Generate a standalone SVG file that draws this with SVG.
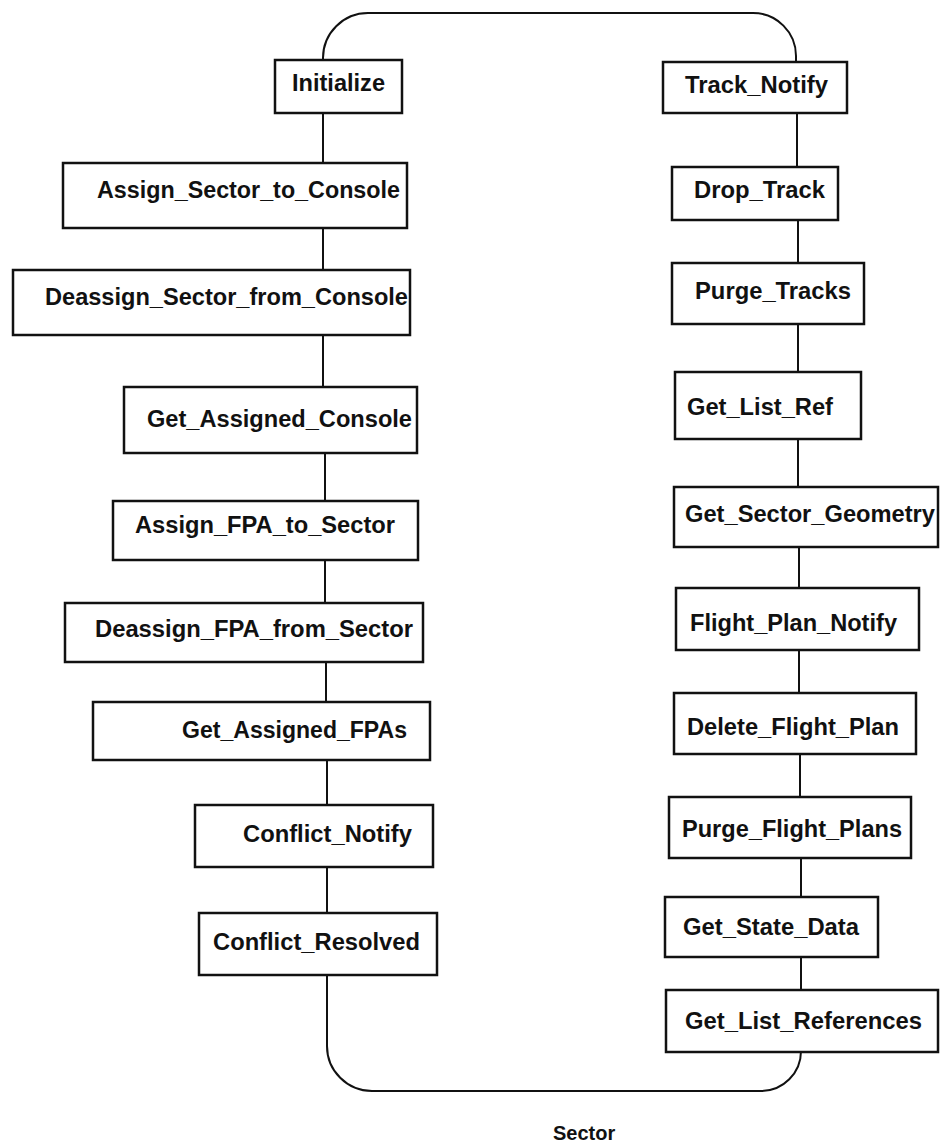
<svg xmlns="http://www.w3.org/2000/svg" width="940" height="1145" viewBox="0 0 940 1145">
<style>
.box rect{fill:#fff;stroke:#111;stroke-width:2.5}
.box text{font-family:"Liberation Sans",Arial,sans-serif;font-weight:bold;font-size:23px;fill:#111}
.conn path,.conn line{fill:none;stroke:#111;stroke-width:2}
.label{font-family:"Liberation Sans",Arial,sans-serif;font-weight:bold;font-size:20px;fill:#111}
</style>
<rect width="940" height="1145" fill="#fff"/>
<g id="connectors" class="conn">
<path d="M323 60 L323 58 A45 45 0 0 1 368 13 L753 13 A43 43 0 0 1 796 56 L796 62"/>
<line x1="323" y1="113" x2="323" y2="163"/>
<line x1="323" y1="228" x2="323" y2="270"/>
<line x1="323" y1="335" x2="323" y2="387"/>
<line x1="325" y1="453" x2="325" y2="501"/>
<line x1="325" y1="560" x2="325" y2="603"/>
<line x1="326" y1="662" x2="326" y2="702"/>
<line x1="327" y1="760" x2="327" y2="805"/>
<line x1="327" y1="867" x2="327" y2="913"/>
<path d="M327 975 L327 1046 A45 45 0 0 0 372 1091 L761 1091 A40 40 0 0 0 801 1051 L801 1052"/>
<line x1="797" y1="113" x2="797" y2="167"/>
<line x1="798" y1="220" x2="798" y2="263"/>
<line x1="798" y1="324" x2="798" y2="372"/>
<line x1="798" y1="439" x2="798" y2="487"/>
<line x1="799" y1="547" x2="799" y2="588"/>
<line x1="799" y1="650" x2="799" y2="693"/>
<line x1="800" y1="754" x2="800" y2="797"/>
<line x1="801" y1="858" x2="801" y2="897"/>
<line x1="801" y1="957" x2="801" y2="990"/>
</g>
<g id="initialize" class="box"><rect x="275" y="60" width="127" height="53"/><text x="292" y="91" textLength="93" lengthAdjust="spacingAndGlyphs">Initialize</text></g>
<g id="assign_sector_to_console" class="box"><rect x="63" y="163" width="344" height="65"/><text x="97" y="198" textLength="303" lengthAdjust="spacingAndGlyphs">Assign_Sector_to_Console</text></g>
<g id="deassign_sector_from_console" class="box"><rect x="13" y="270" width="397" height="65"/><text x="45" y="305" textLength="363" lengthAdjust="spacingAndGlyphs">Deassign_Sector_from_Console</text></g>
<g id="get_assigned_console" class="box"><rect x="124" y="387" width="293" height="66"/><text x="147" y="427" textLength="265" lengthAdjust="spacingAndGlyphs">Get_Assigned_Console</text></g>
<g id="assign_fpa_to_sector" class="box"><rect x="113" y="501" width="305" height="59"/><text x="135" y="533" textLength="260" lengthAdjust="spacingAndGlyphs">Assign_FPA_to_Sector</text></g>
<g id="deassign_fpa_from_sector" class="box"><rect x="65" y="603" width="358" height="59"/><text x="95" y="637" textLength="318" lengthAdjust="spacingAndGlyphs">Deassign_FPA_from_Sector</text></g>
<g id="get_assigned_fpas" class="box"><rect x="93" y="702" width="337" height="58"/><text x="182" y="738" textLength="225" lengthAdjust="spacingAndGlyphs">Get_Assigned_FPAs</text></g>
<g id="conflict_notify" class="box"><rect x="195" y="805" width="238" height="62"/><text x="243" y="842" textLength="169" lengthAdjust="spacingAndGlyphs">Conflict_Notify</text></g>
<g id="conflict_resolved" class="box"><rect x="199" y="913" width="238" height="62"/><text x="213" y="950" textLength="207" lengthAdjust="spacingAndGlyphs">Conflict_Resolved</text></g>
<g id="track_notify" class="box"><rect x="663" y="62" width="184" height="51"/><text x="685" y="93" textLength="143" lengthAdjust="spacingAndGlyphs">Track_Notify</text></g>
<g id="drop_track" class="box"><rect x="672" y="167" width="166" height="53"/><text x="694" y="198" textLength="131" lengthAdjust="spacingAndGlyphs">Drop_Track</text></g>
<g id="purge_tracks" class="box"><rect x="672" y="263" width="192" height="61"/><text x="695" y="299" textLength="156" lengthAdjust="spacingAndGlyphs">Purge_Tracks</text></g>
<g id="get_list_ref" class="box"><rect x="675" y="372" width="186" height="67"/><text x="687" y="415" textLength="146" lengthAdjust="spacingAndGlyphs">Get_List_Ref</text></g>
<g id="get_sector_geometry" class="box"><rect x="674" y="487" width="264" height="60"/><text x="685" y="522" textLength="250" lengthAdjust="spacingAndGlyphs">Get_Sector_Geometry</text></g>
<g id="flight_plan_notify" class="box"><rect x="676" y="588" width="243" height="62"/><text x="690" y="631" textLength="207" lengthAdjust="spacingAndGlyphs">Flight_Plan_Notify</text></g>
<g id="delete_flight_plan" class="box"><rect x="674" y="693" width="242" height="61"/><text x="687" y="735" textLength="212" lengthAdjust="spacingAndGlyphs">Delete_Flight_Plan</text></g>
<g id="purge_flight_plans" class="box"><rect x="669" y="797" width="242" height="61"/><text x="682" y="837" textLength="220" lengthAdjust="spacingAndGlyphs">Purge_Flight_Plans</text></g>
<g id="get_state_data" class="box"><rect x="665" y="897" width="213" height="60"/><text x="683" y="935" textLength="176" lengthAdjust="spacingAndGlyphs">Get_State_Data</text></g>
<g id="get_list_references" class="box"><rect x="666" y="990" width="272" height="62"/><text x="685" y="1029" textLength="237" lengthAdjust="spacingAndGlyphs">Get_List_References</text></g>
<text class="label" x="553" y="1140">Sector</text>
</svg>
